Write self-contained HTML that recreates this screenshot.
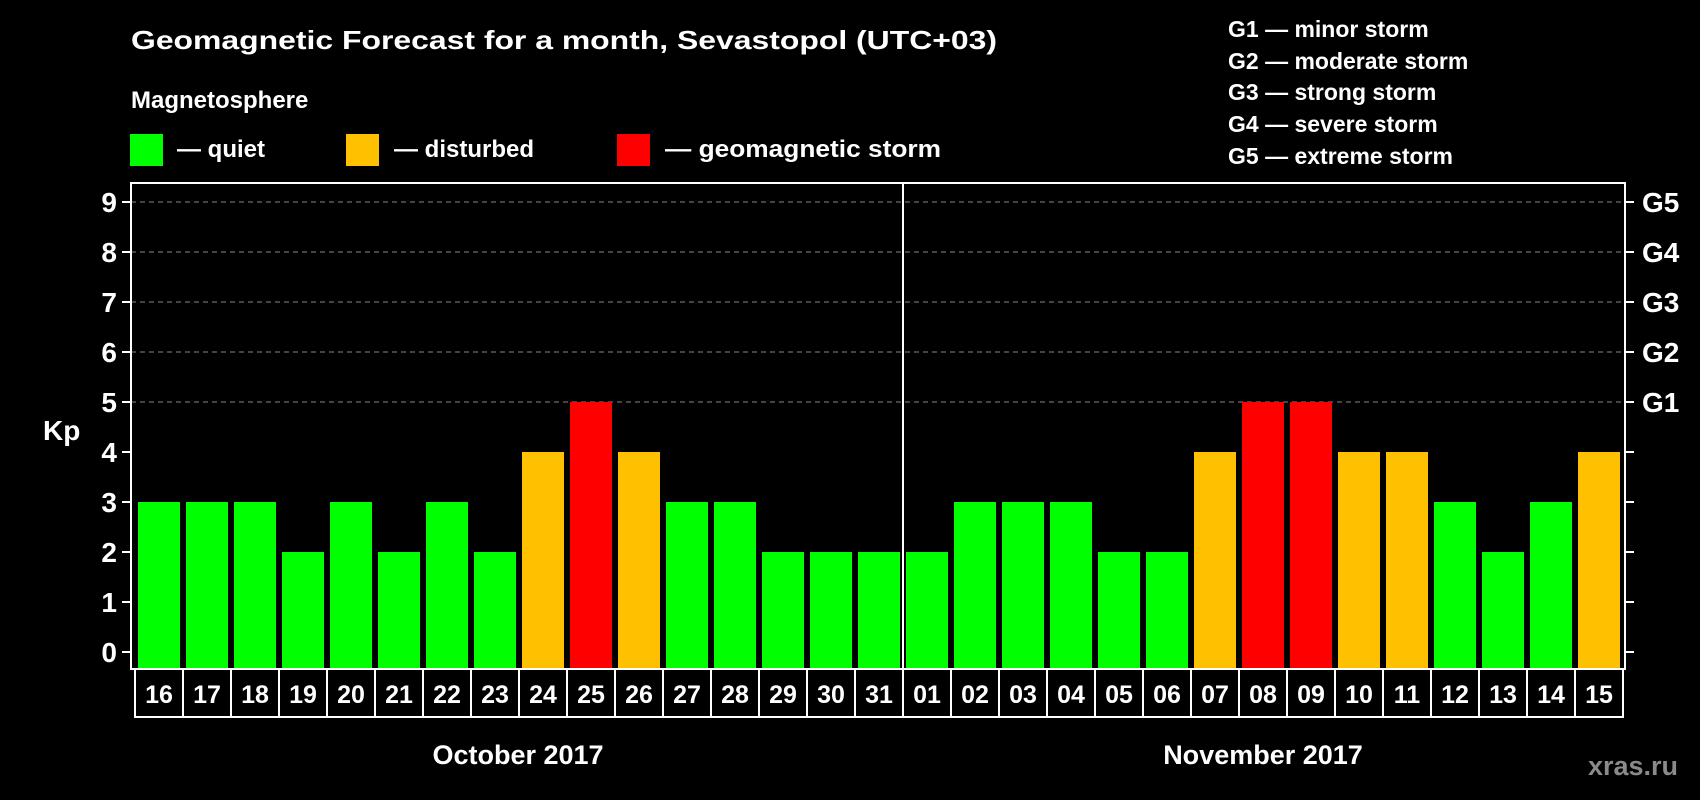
<!DOCTYPE html>
<html><head><meta charset="utf-8"><style>
html,body{margin:0;padding:0;background:#000;}
svg{display:block;font-family:"Liberation Sans",Arial,sans-serif;font-weight:bold;}
</style></head><body>
<svg id="chart" width="1700" height="800" viewBox="0 0 1700 800" xmlns="http://www.w3.org/2000/svg">
<rect x="0" y="0" width="1700" height="800" fill="#000"/>
<text x="131" y="49" font-size="26" fill="#fff" textLength="866" lengthAdjust="spacingAndGlyphs">Geomagnetic Forecast for a month, Sevastopol (UTC+03)</text>
<text x="131" y="108" font-size="24" fill="#fff">Magnetosphere</text>
<g>
<rect x="130" y="134" width="33" height="32" fill="#00ff00"/>
<text x="177" y="157" font-size="24" fill="#fff">— quiet</text></g>
<g>
<rect x="346" y="134" width="33" height="32" fill="#ffc000"/>
<text x="394" y="157" font-size="24" fill="#fff">— disturbed</text></g>
<g>
<rect x="617" y="134" width="33" height="32" fill="#ff0000"/>
<text x="665" y="157" font-size="24" fill="#fff" textLength="276" lengthAdjust="spacingAndGlyphs">— geomagnetic storm</text></g>
<g font-size="23" fill="#fff">
<text x="1228" y="37">G1 — minor storm</text>
<text x="1228" y="69">G2 — moderate storm</text>
<text x="1228" y="100">G3 — strong storm</text>
<text x="1228" y="132">G4 — severe storm</text>
<text x="1228" y="164">G5 — extreme storm</text>
</g>
<g id="grid"></g><g id="bars"></g><g id="axes"></g>
<text x="43" y="440" font-size="28" fill="#fff">Kp</text>
<text x="518" y="764" font-size="27" fill="#fff" text-anchor="middle">October 2017</text>
<text x="1263" y="764" font-size="27" fill="#fff" text-anchor="middle">November 2017</text>
<text x="1678" y="775" font-size="27" fill="#8a8a8a" text-anchor="end">xras.ru</text>
</svg>
<script>
const days = ["16","17","18","19","20","21","22","23","24","25","26","27","28","29","30","31","01","02","03","04","05","06","07","08","09","10","11","12","13","14","15"];
const kpValues = [3,3,3,2,3,2,3,2,4,5,4,3,3,2,2,2,2,3,3,3,2,2,4,5,5,4,4,3,2,3,4];
const yTicks = [0,1,2,3,4,5,6,7,8,9];
const gLevels = ["G1","G2","G3","G4","G5"];
const monthSplit = 16;
const NS="http://www.w3.org/2000/svg";
const X0=135, BW=48, Y0=652, UNIT=50, FT=183, FB=669, FL=131, FR=1625;
function xb(i){return X0+i*BW;}
function yv(v){return Y0-v*UNIT;}
function mk(tag,attrs,parent){const e=document.createElementNS(NS,tag);for(const k in attrs)e.setAttribute(k,attrs[k]);parent.appendChild(e);return e;}
function color(v){return v>=5?"#ff0000":(v>=4?"#ffc000":"#00ff00");}
const grid=document.getElementById('grid'),bars=document.getElementById('bars'),axes=document.getElementById('axes');
yTicks.forEach(t=>{
  if(t>=5){const l=mk('line',{x1:FL,x2:FR,y1:yv(t),y2:yv(t),stroke:'#888','stroke-width':1,'stroke-dasharray':'5,4'},grid);
  
  }
  const tl=mk('line',{x1:FL-9,x2:FL,y1:yv(t),y2:yv(t),stroke:'#fff','stroke-width':2},axes);
  
  
  const tr=mk('line',{x1:FR,x2:FR+9,y1:yv(t),y2:yv(t),stroke:'#fff','stroke-width':2},axes);
  
  
  const tx=mk('text',{x:FL-14,y:yv(t)+10,'font-size':28,fill:'#fff','text-anchor':'end'},axes);
  tx.textContent=t;
  
  
});
gLevels.forEach((g,i)=>{
  const t=mk('text',{x:FR+17,y:yv(5+i)+10,'font-size':28,fill:'#fff'},axes);
  t.textContent=g;
  
  
});
kpValues.forEach((v,i)=>{
  const r=mk('rect',{x:xb(i)+3,y:yv(v),width:BW-6,height:FB-yv(v),fill:color(v)},bars);
  
  
  const c=mk('rect',{x:xb(i),y:FB,width:BW,height:48,fill:'none',stroke:'#fff','stroke-width':2},axes);
  
  
  const t=mk('text',{x:xb(i)+BW/2,y:FB+34,'font-size':25,fill:'#fff','text-anchor':'middle'},axes);
  t.textContent=days[i];
  
  
});
const fr=mk('rect',{x:FL,y:FT,width:FR-FL,height:FB-FT,fill:'none',stroke:'#fff','stroke-width':2},axes);


const ms=mk('line',{x1:xb(monthSplit),x2:xb(monthSplit),y1:FT,y2:FB,stroke:'#fff','stroke-width':2},axes);


</script>
</body></html>
